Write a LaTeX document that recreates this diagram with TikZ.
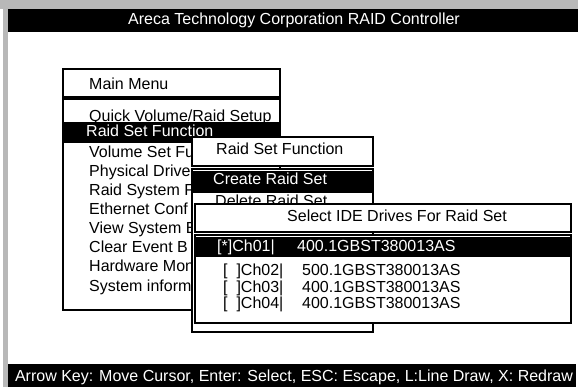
\documentclass[tikz,border=0pt]{standalone}
\usepackage{fontspec}
\setmainfont{Liberation Sans}
\begin{document}
\begin{tikzpicture}[x=1pt,y=-1pt,
  txt/.style={anchor=base west,inner sep=0pt,font=\fontsize{16}{19}\selectfont},
  wtxt/.style={txt,text=white},
  panel/.style={draw=black,line width=2pt,fill=white},
  hibar/.style={fill=black},
  frame/.style={fill=black!28}]
% page
\useasboundingbox (0,0) rectangle (578,387);
\fill[white] (0,0) rectangle (578,387);
% grey window frame
\fill[frame] (0,0) rectangle (578,9);
\fill[frame] (3,9) rectangle (8,387);
% title bar
\fill[black] (8,9) rectangle (578,32);
\node[wtxt,anchor=base] (title) at (294,25) {Areca Technology Corporation RAID Controller};
% status bar
\fill[black] (8,364) rectangle (576,387);
\node[wtxt,anchor=base] (status) at (294,381) {Arrow Key: Move Cursor, Enter: Select, ESC: Escape, L:Line Draw, X: Redraw};

% main menu
\draw[panel] (63,69) rectangle (280,97);
\node[txt] (mmtitle) at (89,90) {Main Menu};
\draw[panel] (63,99) rectangle (280,310);
\node[txt] (mm1) at (89,122) {Quick Volume/Raid Setup};
\fill[hibar] (62,122) rectangle (281,143);
\node[wtxt] (mm2) at (86,137) {Raid Set Function};
\node[txt] (mm3) at (89,158) {Volume Set Fu};
\node[txt] (mm4) at (89,177) {Physical Drive};
\node[txt] (mm5) at (89,196) {Raid System F};
\node[txt] (mm6) at (89,215) {Ethernet Conf};
\node[txt] (mm7) at (89,234) {View System E};
\node[txt] (mm8) at (89,253) {Clear Event B};
\node[txt] (mm9) at (89,272) {Hardware Mon};
\node[txt] (mm10) at (89,291) {System inform};

% raid set function submenu
\draw[panel] (192,137) rectangle (373,166);
\node[txt] (rstitle) at (216,155) {Raid Set Function};
\draw[panel] (192,169) rectangle (373,332);
\fill[hibar] (193,171) rectangle (372,193);
\node[wtxt] (rs1) at (213,185) {Create Raid Set};
\node[txt] (rs2) at (215,207) {Delete Raid Set};

% drive selection dialog
\draw[panel] (195,204) rectangle (571,232);
\node[txt] (idetitle) at (287,222) {Select IDE Drives For Raid Set};
\draw[panel] (195,235) rectangle (571,323);
\fill[hibar] (196,237) rectangle (570,257);
\node[wtxt] (ch1) at (217,252) {[*]Ch01|};
\node[wtxt] (d1) at (297,252) {400.1GBST380013AS};
\node[txt] (ch2) at (223,276) {[\ \ ]Ch02|};
\node[txt] (d2) at (302,276) {500.1GBST380013AS};
\node[txt] (ch3) at (223,292) {[\ \ ]Ch03|};
\node[txt] (d3) at (302,292) {400.1GBST380013AS};
\node[txt] (ch4) at (223,308) {[\ \ ]Ch04|};
\node[txt] (d4) at (302,308) {400.1GBST380013AS};
\end{tikzpicture}
\end{document}
